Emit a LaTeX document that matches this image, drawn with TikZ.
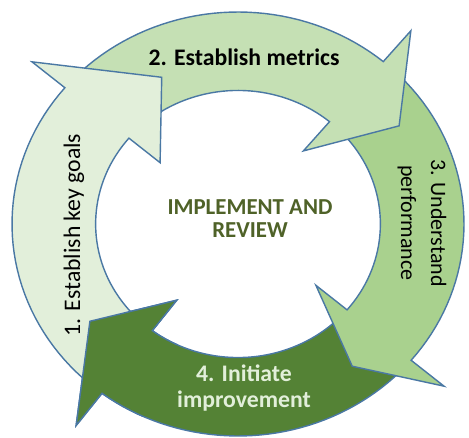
\documentclass[tikz,border=0pt]{standalone}
\usepackage{fontspec}
\setmainfont{Carlito}
\definecolor{goalsgreen}{HTML}{E2EFDA}
\definecolor{metricsgreen}{HTML}{C5E0B4}
\definecolor{perfgreen}{HTML}{A9D18E}
\definecolor{improvegreen}{HTML}{548235}
\definecolor{ringline}{HTML}{4A78A4}
\definecolor{reviewtext}{HTML}{4F6228}
\tikzset{
  ringpart/.style={draw=ringline, line width=0.8pt, line join=miter},
  steptext/.style={inner sep=0pt, align=center, font=\fontsize{13.5}{15}\selectfont},
  boldtext/.style={steptext, font=\bfseries\fontsize{13.5}{15}\selectfont}
}
% tail angle, head angle, tip angle, tip radius, fill
\newcommand{\ringarrow}[5]{
  \filldraw[ringpart, fill=#5] (#1:0.63) -- (#1:1)
    -- plot[domain=#1:#2, samples=40] (\x:1)
    -- (#2:1.19) -- (#3:#4) -- (#2:0.45) -- (#2:0.63)
    -- plot[domain=#2:#1, samples=40] (\x:0.63) -- cycle;
}

\begin{document}
\begin{tikzpicture}
\useasboundingbox (0,0) rectangle (9.38,8.74);
\begin{scope}[shift={(4.76,4.26)}, x=4.52cm, y=4.24cm]
  \foreach \tail/\head/\tip/\tipr/\col in {-44/-127/-145/0.80/improvegreen, 46/-40/-53/0.84/perfgreen, 136/50/33/0.85/metricsgreen, 229/140/116/0.77/goalsgreen}{
    \ringarrow{\tail}{\head}{\tip}{\tipr}{\col}
  }
  % head of step 4 lies over the tail of step 1
  \begin{scope}
    \clip (0,0) -- (245:1.4) -- (195:1.4) -- cycle;
    \ringarrow{-44}{-127}{-145}{0.80}{improvegreen}
  \end{scope}
\end{scope}

\node[steptext, rotate=90] (goals) at (1.48,4.04) {1. Establish key goals};
\node[boldtext] (metrics) at (4.88,7.60) {2. Establish metrics};
\node[steptext, rotate=-90, font=\fontsize{12.5}{17}\selectfont] (perf) at (8.44,4.28) {3. Understand\\performance};
\node[boldtext, text=goalsgreen, font=\bfseries\fontsize{13.5}{14.7}\selectfont] (improve) at (4.88,0.98) {4. Initiate\\improvement};
\node[boldtext, text=reviewtext, font=\bfseries\fontsize{13}{13}\selectfont] (review) at (5.0,4.36) {IMPLEMENT AND\\REVIEW};
\end{tikzpicture}
\end{document}
